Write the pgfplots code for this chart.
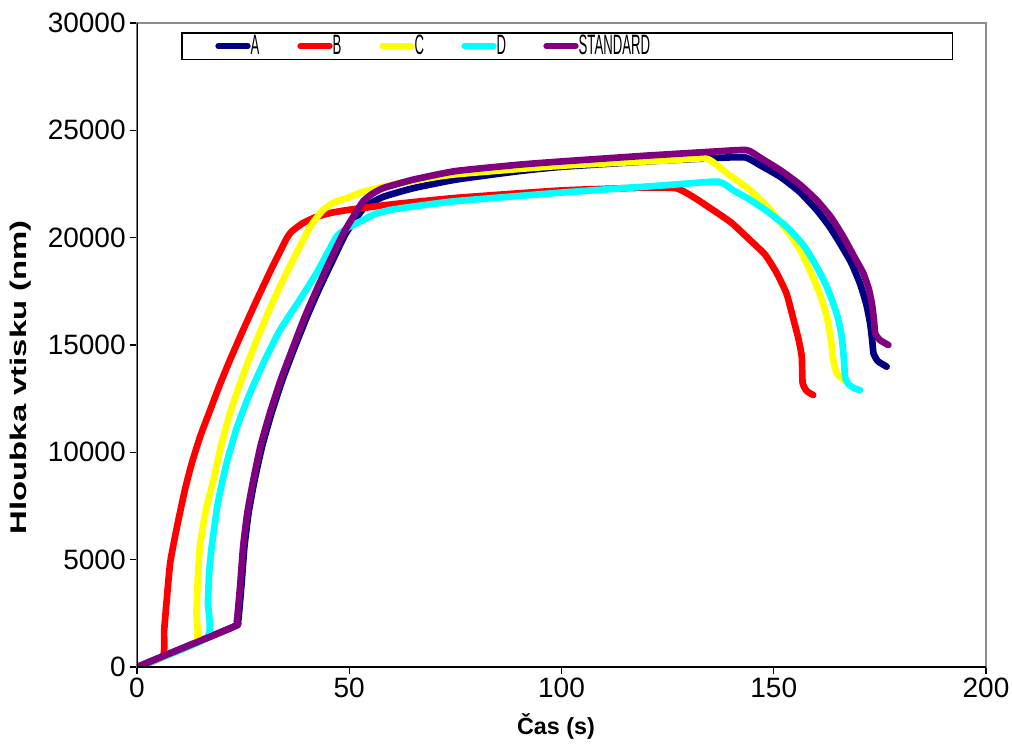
\documentclass[border=0pt]{standalone}
\usepackage{pgfplots}
\pgfplotsset{compat=1.18}
\usepackage{fontspec}
\setmainfont{Liberation Sans}
\definecolor{cA}{HTML}{000080}
\definecolor{cB}{HTML}{FF0000}
\definecolor{cC}{HTML}{FFFF00}
\definecolor{cD}{HTML}{00FFFF}
\definecolor{cS}{HTML}{800080}
\newcommand{\legtxt}[1]{\makebox[35pt][l]{\scalebox{0.47}[1]{\fontsize{21}{21}\selectfont #1}}}
\begin{document}
\begin{tikzpicture}
\begin{axis}[
  scale only axis,
  width=636.75pt, height=483pt,
  xmin=0, xmax=200, ymin=0, ymax=30000,
  xtick={0,50,100,150,200},
  ytick={0,5000,10000,15000,20000,25000,30000},
  scaled ticks=false,
  /pgf/number format/1000 sep={},
  /pgf/number format/assume math mode=true,
  xticklabel style={font=\fontsize{21}{21}\selectfont},
  yticklabel style={font=\fontsize{21}{21}\selectfont},
  tick align=outside,
  xtick pos=left, ytick pos=left,
  major tick length=5pt,
  tick style={black, line width=0.8pt},
  axis line style={draw=gray!90, line width=1.8pt},
  xlabel={\textbf{Čas (s)}},
  ylabel={\scalebox{1.45}[1]{\textbf{Hloubka vtisku (nm)}}},
  xlabel style={font=\fontsize{17.5}{17.5}\selectfont, at={(axis description cs:0.4935,-0.093)}, anchor=center},
  ylabel style={font=\fontsize{17}{17}\selectfont, at={(axis description cs:-0.137,0.45)}, anchor=center},
  legend columns=5,
  legend style={draw=none, fill=none, at={(rel axis cs:0.092,0.964)}, anchor=west, inner sep=0pt, nodes={inner sep=0pt, anchor=west}, /tikz/column sep=0pt},
  legend image code/.code={\draw[line width=4.5pt, line cap=round] (0pt,0pt) -- (22pt,0pt);},
  every axis plot/.append style={line width=5pt, line join=round, line cap=round, smooth, tension=0.3},
]
\draw[black, line width=0.8pt] (rel axis cs:0.053,0.9845) rectangle (rel axis cs:0.96,0.944);
\addplot[cA] coordinates {(0,0) (22.6,1860) (23.8,2100) (24.6,3800) (25.3,5600) (26.3,7200) (27.7,8710) (29.5,10300) (31.7,11830) (34.3,13400) (37.2,14920) (40,16300) (42.8,17570) (46,18900) (49.2,20200) (53.5,21400) (58,21900) (65,22300) (75,22700) (90,23100) (100,23300) (120,23550) (135,23700) (143.2,23740) (147,23350) (151.5,22840) (156,22150) (160.1,21290) (163,20550) (165.6,19740) (168.2,18850) (170.3,17870) (171.8,16900) (172.7,16010) (173.2,15200) (173.5,14610) (174.5,14250) (176.6,13990)};
\addlegendentry{\legtxt{A}}
\addplot[cB] coordinates {(0,0) (6.1,500) (6.4,1700) (7.0,3120) (7.8,4830) (8.95,6070) (10.1,7170) (11.4,8350) (12.9,9490) (14.9,10750) (17.2,11950) (19.5,13150) (21.9,14300) (25,15700) (28.2,17090) (31.8,18600) (35.3,19980) (36.5,20300) (39.1,20680) (42,20950) (45.5,21150) (50,21300) (60,21550) (75,21850) (100,22200) (120,22330) (127.1,22300) (131,21900) (135,21380) (140,20700) (144.4,19890) (148,19200) (150.7,18350) (153,17400) (154.5,16300) (155.8,15300) (156.6,14450) (156.8,13230) (157.8,12850) (159.3,12670)};
\addlegendentry{\legtxt{B}}
\addplot[cC] coordinates {(0,0) (13.7,1130) (14.0,2500) (14.3,4000) (14.8,5600) (16.2,7300) (18,8710) (19.8,10300) (21.9,11830) (25,13600) (28.2,15230) (31.3,16700) (34.4,18030) (37.6,19300) (40.8,20510) (43.8,21290) (46.5,21650) (49.4,21840) (53,22120) (58,22370) (65,22650) (75,22950) (100,23350) (125,23600) (134.2,23680) (139,23000) (144.4,22220) (149,21350) (153,20360) (156,19500) (158.5,18490) (160.8,17400) (162.5,16320) (163.5,15200) (164,14300) (164.8,13700) (165.6,13520) (167.2,13290)};
\addlegendentry{\legtxt{C}}
\addplot[cD] coordinates {(0,0) (16.5,1370) (16.7,3000) (17.0,4400) (17.6,5600) (19,7600) (21.1,9500) (23.6,11200) (26.6,12750) (30,14250) (33.7,15700) (38,17000) (42.3,18350) (47,20040) (50,20500) (53.3,20820) (56,21100) (59.6,21290) (65,21450) (75,21700) (100,22100) (125,22450) (136.9,22610) (140.5,22200) (144.4,21770) (149,21150) (153,20510) (157,19650) (160.1,18650) (162.3,17800) (164,16950) (165.2,16200) (166,15390) (166.5,14400) (166.8,13520) (167.5,13200) (168.8,13000) (170.3,12900)};
\addlegendentry{\legtxt{D}}
\addplot[cS] coordinates {(0,0) (22.6,1860) (23.5,2100) (24.3,3800) (25,5600) (26,7200) (27.4,8710) (29.1,10300) (31.3,11830) (33.9,13400) (36.8,14920) (39.5,16300) (42.3,17570) (45.4,18900) (48.6,20200) (51,21000) (53.3,21700) (55.5,22050) (58,22310) (65,22700) (75,23100) (90,23400) (100,23550) (120,23820) (135,24000) (143.6,24080) (147,23700) (151.5,23150) (156,22500) (160.1,21750) (163.5,20950) (166.4,20040) (169,19100) (171.1,18340) (172.4,17600) (173.1,16940) (173.6,16200) (173.9,15540) (175,15230) (177,15000)};
\addlegendentry{\legtxt{STANDARD}}
\draw[black, line width=1.2pt] (rel axis cs:0,1) -- (rel axis cs:0,0) -- (rel axis cs:1,0);
\end{axis}
\pgfresetboundingbox
\useasboundingbox (-102.75pt,-58.5pt) rectangle (656.25pt,500.25pt);
\end{tikzpicture}
\end{document}
